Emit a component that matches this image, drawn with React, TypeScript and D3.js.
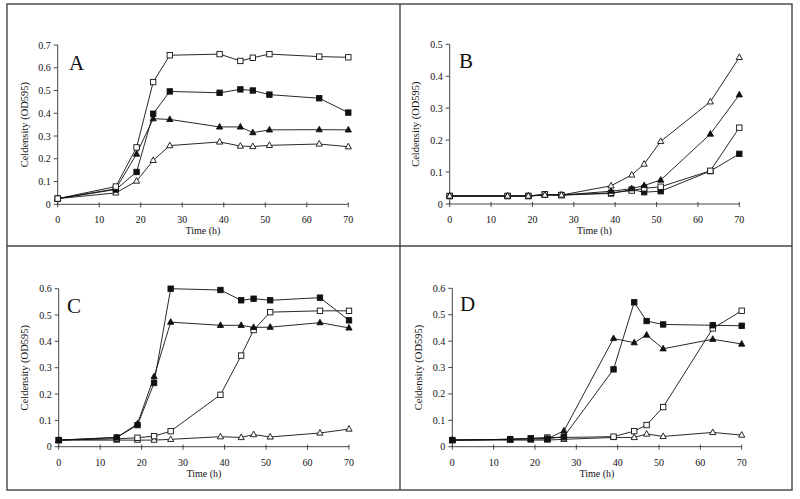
import React from "react";
import * as d3 from "d3";

const times = [0, 14, 19, 23, 27, 39, 44, 47, 51, 63, 70];
const xTicks = [0, 10, 20, 30, 40, 50, 60, 70];

// Panel A
const aOpenSq = [0.025, 0.078, 0.25, 0.537, 0.655, 0.66, 0.63, 0.644, 0.66, 0.649, 0.646];
const aFilledSq = [0.025, 0.065, 0.142, 0.398, 0.496, 0.49, 0.505, 0.5, 0.482, 0.466, 0.403];
const aFilledTri = [0.025, 0.068, 0.221, 0.376, 0.373, 0.34, 0.34, 0.315, 0.327, 0.328, 0.327];
const aOpenTri = [0.025, 0.05, 0.102, 0.193, 0.258, 0.274, 0.256, 0.254, 0.259, 0.265, 0.253];

// Panel B
const bOpenTri = [0.025, 0.025, 0.025, 0.028, 0.028, 0.057, 0.091, 0.125, 0.196, 0.32, 0.459];
const bFilledTri = [0.025, 0.025, 0.025, 0.028, 0.028, 0.04, 0.048, 0.058, 0.075, 0.219, 0.342];
const bOpenSq = [0.025, 0.025, 0.025, 0.03, 0.028, 0.035, 0.042, 0.049, 0.054, 0.104, 0.239];
const bFilledSq = [0.025, 0.025, 0.025, 0.03, 0.028, 0.033, 0.045, 0.037, 0.04, 0.103, 0.157];

// Panel C
const cFilledSq = [0.025, 0.035, 0.082, 0.242, 0.6, 0.595, 0.556, 0.562, 0.556, 0.566, 0.48];
const cFilledTri = [0.025, 0.035, 0.087, 0.266, 0.473, 0.461, 0.461, 0.453, 0.454, 0.471, 0.451];
const cOpenSq = [0.025, 0.03, 0.034, 0.04, 0.059, 0.197, 0.346, 0.443, 0.511, 0.516, 0.516];
const cOpenTri = [0.025, 0.025, 0.025, 0.025, 0.028, 0.038, 0.035, 0.046, 0.037, 0.052, 0.067];

// Panel D
const dFilledSq = [0.025, 0.028, 0.03, 0.03, 0.038, 0.293, 0.547, 0.476, 0.463, 0.46, 0.458];
const dFilledTri = [0.025, 0.028, 0.03, 0.03, 0.06, 0.41, 0.394, 0.423, 0.371, 0.407, 0.389];
const dOpenSq = [0.025, 0.028, 0.032, 0.035, 0.035, 0.038, 0.059, 0.082, 0.15, 0.448, 0.515];
const dOpenTri = [0.025, 0.025, 0.025, 0.025, 0.028, 0.035, 0.035, 0.048, 0.039, 0.054, 0.044];

type Series = { values: number[]; shape: "square" | "triangle"; filled: boolean };

type PanelDef = {
  letter: string;
  yMax: number;
  yTicks: number[];
  x0: number;
  x1: number;
  y0: number;
  y1: number;
  ylabelX: number;
  letterX: number;
  letterY: number;
  series: Series[];
};

const range = (n: number) => d3.range(0, n + 0.0001, 0.1).map((v) => Math.round(v * 10) / 10);

const panels: PanelDef[] = [
  {
    letter: "A", yMax: 0.7, yTicks: range(0.7), x0: 57.7, x1: 348.3, y0: 204.3, y1: 45,
    ylabelX: 24, letterX: 69, letterY: 70,
    series: [
      { values: aOpenTri, shape: "triangle", filled: false },
      { values: aFilledTri, shape: "triangle", filled: true },
      { values: aFilledSq, shape: "square", filled: true },
      { values: aOpenSq, shape: "square", filled: false },
    ],
  },
  {
    letter: "B", yMax: 0.5, yTicks: range(0.5), x0: 449.7, x1: 739.3, y0: 204, y1: 44.3,
    ylabelX: 415, letterX: 459, letterY: 68,
    series: [
      { values: bFilledSq, shape: "square", filled: true },
      { values: bOpenSq, shape: "square", filled: false },
      { values: bFilledTri, shape: "triangle", filled: true },
      { values: bOpenTri, shape: "triangle", filled: false },
    ],
  },
  {
    letter: "C", yMax: 0.6, yTicks: range(0.6), x0: 58.7, x1: 349, y0: 446.7, y1: 288.7,
    ylabelX: 24, letterX: 67, letterY: 313,
    series: [
      { values: cOpenTri, shape: "triangle", filled: false },
      { values: cOpenSq, shape: "square", filled: false },
      { values: cFilledTri, shape: "triangle", filled: true },
      { values: cFilledSq, shape: "square", filled: true },
    ],
  },
  {
    letter: "D", yMax: 0.6, yTicks: range(0.6), x0: 452.3, x1: 741.7, y0: 446.7, y1: 288.3,
    ylabelX: 418, letterX: 460, letterY: 311,
    series: [
      { values: dOpenTri, shape: "triangle", filled: false },
      { values: dOpenSq, shape: "square", filled: false },
      { values: dFilledTri, shape: "triangle", filled: true },
      { values: dFilledSq, shape: "square", filled: true },
    ],
  },
];

const FONT = "'Liberation Serif', 'Times New Roman', serif";
const INK = "#111";

function Marker({ x, y, shape, filled }: { x: number; y: number; shape: string; filled: boolean }) {
  const fill = filled ? INK : "#fff";
  if (shape === "square") {
    const s = 5.4;
    return <rect x={x - s / 2} y={y - s / 2} width={s} height={s} fill={fill} stroke={INK} strokeWidth={0.9} />;
  }
  const h = 5.6;
  const w = 6.2;
  const p = `${x},${y - h * 0.62} ${x + w / 2},${y + h * 0.38} ${x - w / 2},${y + h * 0.38}`;
  return <polygon points={p} fill={fill} stroke={INK} strokeWidth={0.9} strokeLinejoin="miter" />;
}

function Panel({ p }: { p: PanelDef }) {
  const x = d3.scaleLinear().domain([0, 70]).range([p.x0, p.x1]);
  const y = d3.scaleLinear().domain([0, p.yMax]).range([p.y0, p.y1]);
  const line = d3
    .line<number>()
    .x((_, i) => x(times[i]))
    .y((v) => y(v));
  const fmt = (v: number) => (v === 0 ? "0" : d3.format(".1f")(v));
  return (
    <g>
      {/* axes */}
      <line x1={p.x0} x2={p.x0} y1={p.y0} y2={p.y1} stroke="#333" strokeWidth={0.9} />
      <line x1={p.x0} x2={p.x1} y1={p.y0} y2={p.y0} stroke="#333" strokeWidth={0.9} />
      {p.yTicks.map((t) => (
        <g key={"y" + t}>
          <line x1={p.x0 - 4} x2={p.x0} y1={y(t)} y2={y(t)} stroke="#333" strokeWidth={0.9} />
          <text x={p.x0 - 7} y={y(t)} dy="0.35em" textAnchor="end" fontSize={10} fontFamily={FONT} fill={INK}>
            {fmt(t)}
          </text>
        </g>
      ))}
      {xTicks.map((t) => (
        <g key={"x" + t}>
          <line x1={x(t)} x2={x(t)} y1={p.y0 - 2} y2={p.y0 + 3} stroke="#333" strokeWidth={0.9} />
          <text x={x(t)} y={p.y0 + 19} textAnchor="middle" fontSize={10} fontFamily={FONT} fill={INK}>
            {t}
          </text>
        </g>
      ))}
      <text x={(p.x0 + p.x1) / 2} y={p.y0 + 30} textAnchor="middle" fontSize={10} fontFamily={FONT} fill={INK}>
        Time (h)
      </text>
      <text
        transform={`translate(${p.ylabelX},${(p.y0 + p.y1) / 2}) rotate(-90)`}
        dy="0.35em"
        textAnchor="middle"
        fontSize={10.5}
        fontFamily={FONT}
        fill={INK}
      >
        Celdensity (OD595)
      </text>
      <text x={p.letterX} y={p.letterY} fontSize={21} fontFamily={FONT} fill={INK}>
        {p.letter}
      </text>
      {p.series.map((s, si) => (
        <path key={"l" + si} d={line(s.values) || ""} fill="none" stroke={INK} strokeWidth={0.9} />
      ))}
      {p.series.map((s, si) =>
        s.values.map((v, i) => (
          <Marker key={`m${si}-${i}`} x={x(times[i])} y={y(v)} shape={s.shape} filled={s.filled} />
        ))
      )}
    </g>
  );
}

export default function App() {
  return (
    <svg
      width={800}
      height={499}
      style={{ position: "absolute", left: 0, top: 0, background: "#fff" }}
      xmlns="http://www.w3.org/2000/svg"
    >
      <rect x={0} y={0} width={800} height={499} fill="#fff" />
      <rect x={7} y={4} width={785} height={486} fill="none" stroke="#444" strokeWidth={1.4} />
      <line x1={400} x2={400} y1={4} y2={490} stroke="#444" strokeWidth={1.4} />
      <line x1={7} x2={792} y1={246} y2={246} stroke="#444" strokeWidth={1.4} />
      {panels.map((p) => (
        <Panel key={p.letter} p={p} />
      ))}
    </svg>
  );
}
